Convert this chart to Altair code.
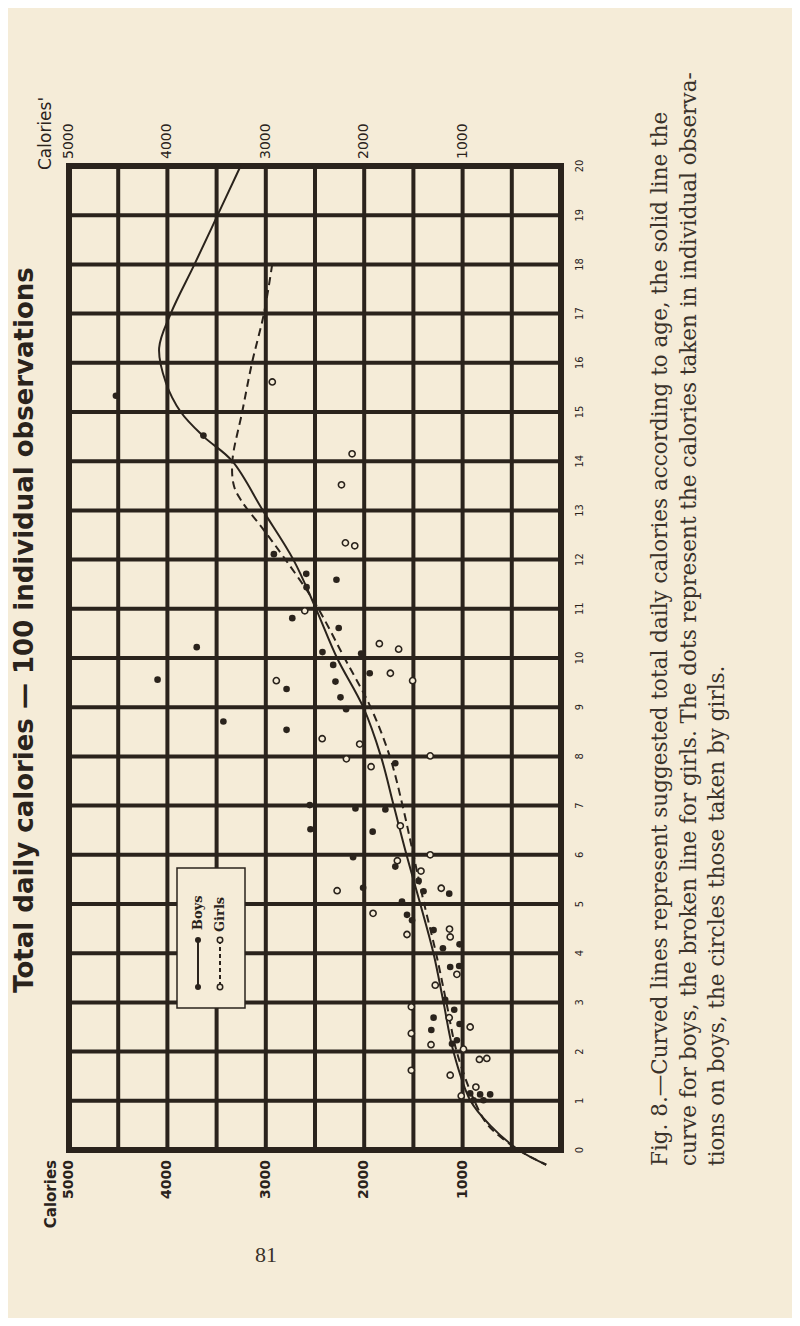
import altair as alt
import pandas as pd

INK = "#2a231c"
BG = "#f5ecd8"
W, H = 492, 984

# ---------------- data ----------------
age_ticks = list(range(0, 21))
cal_grid = list(range(0, 5001, 500))
cal_labels = [5000, 4000, 3000, 2000, 1000]

boys_curve_age = [20, 19, 18, 17, 16.3, 15.6, 15, 14.5, 14, 13, 12, 11, 10, 9, 8, 7, 6, 5, 4, 3, 2, 1, 0.5, 0, -0.3]
boys_curve_cal = [3256, 3490, 3725, 3966, 4084, 4016, 3864, 3631, 3340, 3030, 2720, 2490, 2276, 2010, 1830, 1700, 1570, 1430, 1296, 1194, 1093, 920, 720, 430, 150]

girls_curve_age = [18, 17, 16, 15, 14, 13.5, 13.2, 12.6, 12, 11.1, 10, 9, 8, 7, 6, 5, 4, 3, 2, 1, 0.5, 0, -0.3]
girls_curve_cal = [2935, 3019, 3140, 3240, 3340, 3324, 3250, 3020, 2800, 2495, 2200, 1935, 1740, 1610, 1500, 1390, 1270, 1165, 1060, 880, 740, 430, 150]

boys_obs_age = [15.33, 14.52, 12.11, 11.71, 11.59, 11.44, 10.81, 10.61, 10.22, 10.12, 10.09, 9.86, 9.69, 9.56,
                9.52, 9.37, 9.20, 8.96, 8.71, 8.54, 7.86, 7.01, 6.94, 6.92, 6.52, 6.47, 5.95, 5.76, 5.33,
                5.26, 5.21, 5.05, 4.78, 4.67, 4.47, 4.18, 4.10, 3.72, 3.74, 3.05, 2.85, 2.69, 2.56, 2.44,
                2.23, 2.16, 1.15, 1.13, 1.13, 1.01, 1.01, 5.47]
boys_obs_cal = [4523, 3634, 2918, 2589, 2282, 2586, 2731, 2259, 3702, 2424, 2031, 2315, 1944, 4100,
                2292, 2789, 2241, 2184, 3431, 2789, 1684, 2553, 2089, 1785, 2546, 1914, 2113, 1684, 2011,
                1397, 1136, 1616, 1565, 1514, 1295, 1031, 1200, 1126, 1035, 1177, 1085, 1295, 1031, 1318,
                1058, 1108, 923, 822, 720, 889, 788, 1447]

girls_obs_age = [15.61, 14.15, 13.52, 12.34, 12.28, 10.96, 10.29, 10.18, 9.69, 9.54, 9.54, 8.36, 8.25, 7.95,
                 8.01, 7.79, 6.59, 6.00, 5.88, 5.67, 5.27, 5.32, 4.81, 4.38, 4.49, 4.33, 3.57, 3.35, 2.91,
                 2.69, 2.50, 2.37, 2.14, 2.05, 1.84, 1.86, 1.62, 1.52, 1.28, 1.10]
girls_obs_cal = [2934, 2123, 2231, 2191, 2096, 2604, 1846, 1650, 1734, 2893, 1508, 2427, 2046, 2181,
                 1329, 1930, 1633, 1329, 1663, 1423, 2275, 1217, 1910, 1565, 1133, 1126, 1058, 1278, 1521,
                 1136, 923, 1521, 1321, 991, 829, 754, 1521, 1126, 865, 1014]

title_text = "Total daily calories \u2014 100 individual observations"
caption_lines = [
    "Fig. 8.\u2014Curved lines represent suggested total daily calories according to age, the solid line the",
    "curve for boys, the broken line for girls. The dots represent the calories taken in individual observa-",
    "tions on boys, the circles those taken by girls.",
]
page_number = "81"

# ---------------- scales ----------------
xs = alt.Scale(domain=[5000, 0], nice=False, zero=False)
ys = alt.Scale(domain=[0, 20], nice=False, zero=False)

one = pd.DataFrame({"k": [0]})

# grid
vgrid = alt.Chart(pd.DataFrame({"cal": cal_grid})).mark_rule(color=INK, strokeWidth=4).encode(
    x=alt.X("cal:Q", scale=xs, axis=None), y=alt.value(0), y2=alt.value(H))
hgrid = alt.Chart(pd.DataFrame({"age": age_ticks})).mark_rule(color=INK, strokeWidth=4).encode(
    y=alt.Y("age:Q", scale=ys, axis=None), x=alt.value(0), x2=alt.value(W))
vborder = alt.Chart(pd.DataFrame({"cal": [cal_grid[0], cal_grid[-1]]})).mark_rule(
    color=INK, strokeWidth=6, strokeCap="square").encode(
    x=alt.X("cal:Q", scale=xs, axis=None), y=alt.value(0), y2=alt.value(H))
hborder = alt.Chart(pd.DataFrame({"age": [age_ticks[0], age_ticks[-1]]})).mark_rule(
    color=INK, strokeWidth=6, strokeCap="square").encode(
    y=alt.Y("age:Q", scale=ys, axis=None), x=alt.value(0), x2=alt.value(W))

# curves
boys_df = pd.DataFrame({"age": boys_curve_age, "cal": boys_curve_cal, "o": range(len(boys_curve_age))})
girls_df = pd.DataFrame({"age": girls_curve_age, "cal": girls_curve_cal, "o": range(len(girls_curve_age))})
boys_line = alt.Chart(boys_df).mark_line(color=INK, strokeWidth=2, interpolate="catmull-rom").encode(
    x=alt.X("cal:Q", scale=xs, axis=None), y=alt.Y("age:Q", scale=ys, axis=None), order="o:Q")
girls_line = alt.Chart(girls_df).mark_line(color=INK, strokeWidth=2, strokeDash=[8, 5],
                                           interpolate="catmull-rom").encode(
    x=alt.X("cal:Q", scale=xs, axis=None), y=alt.Y("age:Q", scale=ys, axis=None), order="o:Q")

# observations
boys_pts = alt.Chart(pd.DataFrame({"age": boys_obs_age, "cal": boys_obs_cal})).mark_point(
    shape="circle", filled=True, color=INK, size=44, opacity=1).encode(
    x=alt.X("cal:Q", scale=xs, axis=None), y=alt.Y("age:Q", scale=ys, axis=None))
girls_pts = alt.Chart(pd.DataFrame({"age": girls_obs_age, "cal": girls_obs_cal})).mark_point(
    shape="circle", filled=True, fill=BG, stroke=INK, strokeWidth=1.6, size=38, opacity=1).encode(
    x=alt.X("cal:Q", scale=xs, axis=None), y=alt.Y("age:Q", scale=ys, axis=None))

# axis labels
top_lab = alt.Chart(pd.DataFrame({"cal": cal_labels})).mark_text(
    angle=270, align="left", baseline="middle", font="DejaVu Sans", fontSize=14, color=INK).encode(
    x=alt.X("cal:Q", scale=xs, axis=None), y=alt.value(-7), text="cal:N")
bot_lab = alt.Chart(pd.DataFrame({"cal": cal_labels})).mark_text(
    angle=270, align="right", baseline="middle", font="DejaVu Sans", fontSize=14, fontWeight="bold",
    color=INK).encode(
    x=alt.X("cal:Q", scale=xs, axis=None), y=alt.value(H + 10), text="cal:N")
age_lab = alt.Chart(pd.DataFrame({"age": age_ticks})).mark_text(
    angle=270, align="center", baseline="middle", font="DejaVu Sans Condensed", fontSize=11, color=INK).encode(
    y=alt.Y("age:Q", scale=ys, axis=None), x=alt.value(W + 19), text="age:N")

cal_top = alt.Chart(one).mark_text(angle=270, align="left", baseline="middle", font="DejaVu Sans",
                                   fontSize=17, color=INK, text="Calories'").encode(
    x=alt.value(-23), y=alt.value(4))
cal_bot = alt.Chart(one).mark_text(angle=270, align="right", baseline="middle", font="DejaVu Sans",
                                   fontSize=15, fontWeight="bold", color=INK, text="Calories").encode(
    x=alt.value(-18), y=alt.value(H + 10))

title = alt.Chart(one).mark_text(angle=270, align="center", baseline="middle", font="DejaVu Sans",
                                 fontSize=26, fontWeight="bold", color=INK, text=title_text).encode(
    x=alt.value(-44), y=alt.value(464))

cap_x = [592, 621, 649]
caption_layers = [
    alt.Chart(one).mark_text(angle=270, align="left", baseline="middle", font="DejaVu Serif",
                             fontSize=21.5, color="#3a322a", text=line).encode(
        x=alt.value(cx), y=alt.value(H + 16))
    for line, cx in zip(caption_lines, cap_x)
]

pnum = alt.Chart(one).mark_text(align="center", baseline="middle", font="Liberation Serif",
                                fontSize=22, color="#3a322a", text=page_number).encode(
    x=alt.value(197), y=alt.value(1089))

# legend box
leg_box = alt.Chart(one).mark_rect(fill=BG, stroke=INK, strokeWidth=1.5).encode(
    x=alt.value(108), x2=alt.value(176), y=alt.value(702), y2=alt.value(842))
leg_boys_t = alt.Chart(one).mark_text(angle=270, align="left", baseline="middle", font="DejaVu Serif",
                                      fontSize=13, fontWeight="bold", color=INK, text="Boys").encode(
    x=alt.value(129), y=alt.value(764))
leg_girls_t = alt.Chart(one).mark_text(angle=270, align="left", baseline="middle", font="DejaVu Serif",
                                       fontSize=13, fontWeight="bold", color=INK, text="Girls").encode(
    x=alt.value(151), y=alt.value(766))
leg_boys_l = alt.Chart(one).mark_rule(color=INK, strokeWidth=2).encode(
    x=alt.value(129), y=alt.value(774), y2=alt.value(821))
leg_girls_l = alt.Chart(one).mark_rule(color=INK, strokeWidth=2, strokeDash=[4, 3]).encode(
    x=alt.value(151), y=alt.value(774), y2=alt.value(821))
leg_ends = pd.DataFrame({"py": [774, 821]})
leg_boys_p = alt.Chart(leg_ends).mark_point(shape="circle", filled=True, color=INK, size=36, opacity=1).encode(
    x=alt.value(129), y=alt.Y("py:Q", scale=None))
leg_girls_p = alt.Chart(leg_ends).mark_point(shape="circle", filled=True, fill=BG, stroke=INK,
                                             strokeWidth=1.5, size=30, opacity=1).encode(
    x=alt.value(151), y=alt.Y("py:Q", scale=None))

chart = alt.layer(
    vgrid, hgrid, vborder, hborder,
    girls_line, boys_line, boys_pts, girls_pts,
    leg_box, leg_boys_l, leg_girls_l, leg_boys_p, leg_girls_p, leg_boys_t, leg_girls_t,
    top_lab, bot_lab, age_lab, cal_top, cal_bot, title, *caption_layers, pnum,
).properties(
    width=W, height=H,
    autosize=alt.AutoSizeParams(type="none"),
    padding={"left": 61, "top": 158, "right": 231, "bottom": 168},
    background=BG,
).configure_view(stroke=None)

chart.save("out.html", embed_options={"renderer": "svg", "actions": False})
